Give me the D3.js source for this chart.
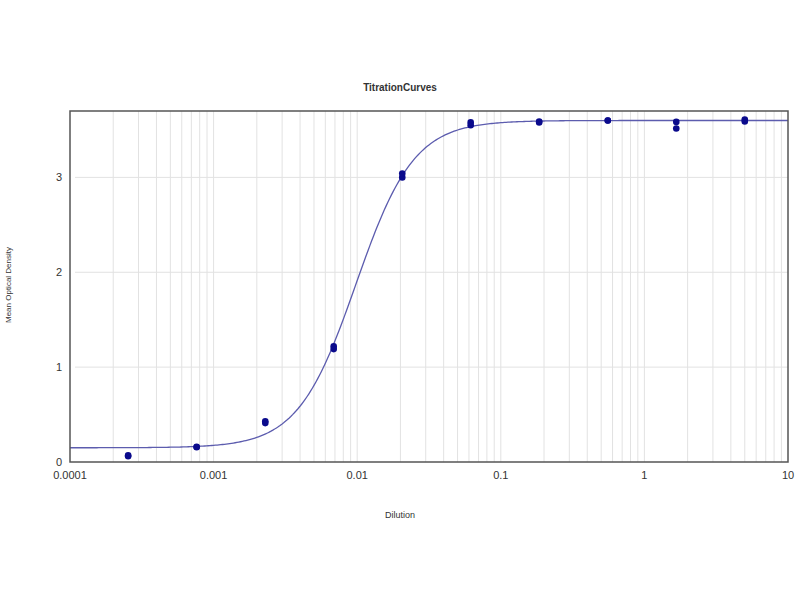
<!DOCTYPE html>
<html>
<head>
<meta charset="utf-8">
<script src="https://cdn.jsdelivr.net/npm/d3@7"></script>
<style>
  body { margin: 0; background: #fff; }
  text { font-family: "Liberation Sans", Arial, sans-serif; fill: #333; }
</style>
</head>
<body>
<div id="chart"></div>
<script>
// dilution series (3-fold) and the measured ODs (duplicates)
const dilutions = [0.000254, 0.000762, 0.00229, 0.00686, 0.0206, 0.0617, 0.185, 0.556, 1.667, 5]
const odRep1 = [0.06, 0.155, 0.41, 1.19, 3.0, 3.55, 3.58, 3.60, 3.515, 3.59]
const odRep2 = [0.07, 0.16, 0.43, 1.22, 3.04, 3.58, 3.59, 3.60, 3.585, 3.61]
// fitted 4-parameter logistic
const fitParams = {bottom: 0.15, top: 3.6, ec50: 0.0098, hill: 2.15}
const xTicks = [0.0001, 0.001, 0.01, 0.1, 1, 10]
const yTicks = [0, 1, 2, 3]

const W = 800, H = 600
const margin = {top: 111, right: 12, bottom: 138, left: 70}
const width = W - margin.left - margin.right
const height = H - margin.top - margin.bottom

const svg = d3.select("#chart").append("svg")
  .attr("width", W).attr("height", H)

const x = d3.scaleLog().domain([0.0001, 10]).range([0, width])
const y = d3.scaleLinear().domain([0, 3.7]).range([height, 0])

const g = svg.append("g").attr("transform", `translate(${margin.left},${margin.top})`)

// minor log gridlines
const minor = []
for (let e = -4; e < 1; e++) {
  for (let k = 1; k <= 9; k++) minor.push(k * Math.pow(10, e))
}
g.append("g").selectAll("line").data(minor.filter(v => v > 0.0001)).enter()
  .append("line")
  .attr("x1", d => x(d)).attr("x2", d => x(d))
  .attr("y1", 0).attr("y2", height)
  .attr("stroke", "#e2e2e2").attr("stroke-width", 1)

g.append("g").selectAll("line").data(yTicks.filter(v => v > 0)).enter()
  .append("line")
  .attr("x1", 5).attr("x2", width)
  .attr("y1", d => y(d)).attr("y2", d => y(d))
  .attr("stroke", "#e2e2e2").attr("stroke-width", 1)

// fitted curve
const fit = v => fitParams.bottom + (fitParams.top - fitParams.bottom) /
  (1 + Math.pow(fitParams.ec50 / v, fitParams.hill))
const curvePts = d3.range(0, 401).map(i => Math.pow(10, -4 + i * 5 / 400))
g.append("path")
  .datum(curvePts)
  .attr("fill", "none")
  .attr("stroke", "#5c5cae")
  .attr("stroke-width", 1.3)
  .attr("d", d3.line().x(d => x(d)).y(d => y(fit(d))))

// points
const pts = dilutions.flatMap((d, i) => [{x: d, y: odRep1[i]}, {x: d, y: odRep2[i]}])
g.append("g").selectAll("circle").data(pts).enter()
  .append("circle")
  .attr("cx", d => x(d.x)).attr("cy", d => y(d.y))
  .attr("r", 3.3)
  .attr("fill", "#0a0a8c")

// frame
g.append("rect")
  .attr("width", width).attr("height", height)
  .attr("fill", "none").attr("stroke", "#555").attr("stroke-width", 1.5)

// tick labels
g.append("g").selectAll("text").data(xTicks).enter()
  .append("text")
  .attr("x", d => x(d)).attr("y", height + 17)
  .attr("text-anchor", "middle")
  .attr("font-size", 11)
  .text(d => d3.format("~g")(d))

g.append("g").selectAll("text").data(yTicks).enter()
  .append("text")
  .attr("x", -8).attr("y", d => y(d) + 4)
  .attr("text-anchor", "end")
  .attr("font-size", 11)
  .text(d => d)

// titles
svg.append("text")
  .attr("x", 400).attr("y", 91)
  .attr("text-anchor", "middle")
  .attr("font-size", 10).attr("font-weight", "bold")
  .text("TitrationCurves")

svg.append("text")
  .attr("x", 400).attr("y", 518)
  .attr("text-anchor", "middle")
  .attr("font-size", 9)
  .text("Dilution")

svg.append("text")
  .attr("transform", "translate(11,285) rotate(-90)")
  .attr("text-anchor", "middle")
  .attr("font-size", 8)
  .text("Mean Optical Density")
</script>
</body>
</html>
